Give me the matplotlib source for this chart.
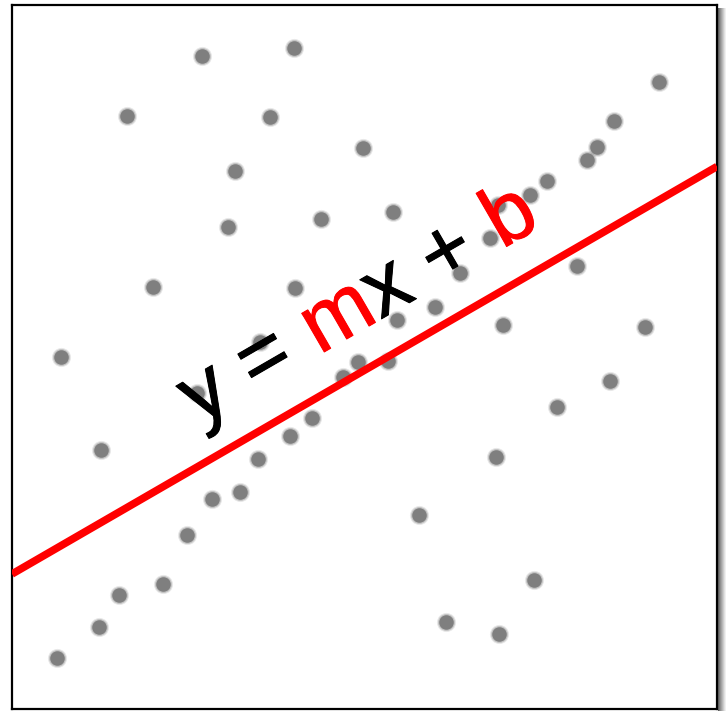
import numpy as np
import matplotlib
matplotlib.use("Agg")
import matplotlib.pyplot as plt
import matplotlib.patheffects as pe
from matplotlib.patches import Rectangle
from matplotlib.font_manager import FontProperties, findfont
from matplotlib.ft2font import FT2Font

# scatter points (x, y)
px = [190, 282, 115, 258, 647, 602, 585, 575, 535, 518, 351, 223, 216, 309, 381,
      486, 478, 141, 283, 565, 448, 423, 385, 491, 633, 49, 248, 346, 376, 331,
      185, 598, 545, 300, 278, 89, 246, 484, 200, 228, 407, 175, 151, 107, 87,
      45, 434, 487, 522]
py = [653, 661, 593, 592, 627, 588, 562, 549, 528, 514, 561, 538, 482, 490, 497,
      504, 471, 422, 421, 443, 436, 402, 389, 384, 382, 352, 367, 347, 348, 332,
      316, 328, 302, 291, 273, 259, 250, 252, 210, 217, 194, 174, 125, 114, 82,
      51, 87, 75, 129]

# fitted line y = m x + b
slope = 0.578
intercept = 135

label_parts = ["y = ", "m", "x + ", "b"]
label_colors = ["black", "red", "black", "red"]

W, H = 726, 711
fig = plt.figure(figsize=(W / 100, H / 100), dpi=100)
ax = fig.add_axes([12 / W, 2 / H, 705 / W, 704 / H])
ax.set_xlim(0, 705)
ax.set_ylim(0, 704)
ax.set_xticks([])
ax.set_yticks([])
for s in ax.spines.values():
    s.set_linewidth(1.6)
    s.set_color("black")

# soft grey dots
ax.scatter(px, py, s=190, color="#808080", alpha=0.18, linewidths=0, zorder=2)
ax.scatter(px, py, s=150, color="#808080", alpha=0.35, linewidths=0, zorder=2)
ax.scatter(px, py, s=110, color="#7f7f7f", linewidths=0, zorder=2)

xs = np.array([0, 705])
ax.plot(xs, slope * xs + intercept, color="red", lw=5.5, solid_capstyle="butt", zorder=3)

# drop shadow on the right of the frame
shades = ["#5a5a5a", "#7a7a7a", "#909090", "#a4a4a4", "#b8b8b8", "#cccccc", "#e0e0e0", "#f0f0f0"]
for i, c in enumerate(shades):
    fig.patches.append(Rectangle((718 + i, 0), 1, 703, transform=None, color=c, lw=0))

# rotated label, pieces placed along one baseline
fsize = 61
fp = FontProperties(family="Liberation Sans", size=fsize)
ft = FT2Font(findfont(fp), hinting_factor=1)
ft.set_size(fsize, 100)


def advance(txt):
    return sum(ft.load_char(ord(ch)).horiAdvance / 64 for ch in txt)


ang = np.degrees(np.arctan2(407, 704))
ux, uy = np.cos(np.radians(ang)), np.sin(np.radians(ang))
x0, y0 = 198, H - 425
pos = 0.0
for part, col in zip(label_parts, label_colors):
    fig.text(x0 + pos * ux, y0 + pos * uy, part, transform=None, fontproperties=fp,
             color=col, rotation=ang, rotation_mode="anchor", ha="left", va="baseline",
             zorder=5, path_effects=[pe.withStroke(linewidth=0.7, foreground=col)])
    pos += advance(part)

fig.savefig("out.png", dpi=100)
